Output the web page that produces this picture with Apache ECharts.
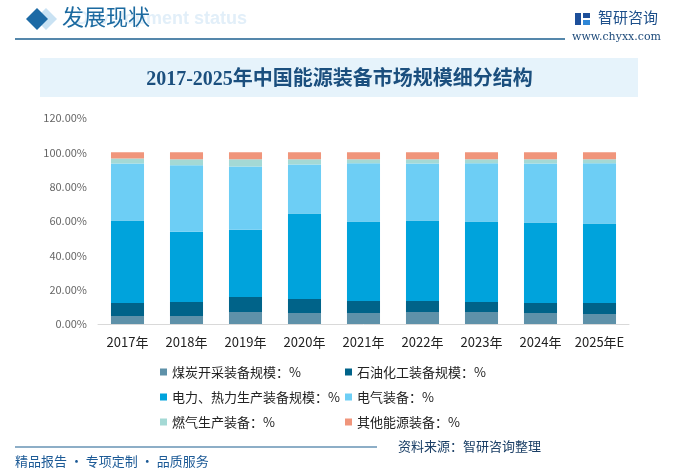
<!DOCTYPE html>
<html><head><meta charset="utf-8">
<script src="https://cdn.jsdelivr.net/npm/echarts@6/dist/echarts.min.js"></script>
<style>html,body{margin:0;padding:0;background:#fff}#c{width:679px;height:472px}</style>
</head><body><div id="c"></div>
<script>
const categories = ['2017年','2018年','2019年','2020年','2021年','2022年','2023年','2024年','2025年E'];
const coal  = [4.68, 4.68, 7.02, 6.43, 6.43, 7.02, 7.02, 6.43, 5.85];
const petro = [7.60, 8.19, 8.77, 8.19, 7.02, 6.43, 5.85, 5.85, 6.43];
const power = [47.95, 40.94, 39.18, 49.71, 46.20, 46.78, 46.78, 46.78, 46.20];
const elec  = [33.33, 38.60, 36.84, 28.65, 33.92, 33.33, 33.92, 34.50, 35.09];
const gas   = [2.92, 3.51, 4.09, 2.92, 2.34, 2.34, 2.34, 2.34, 2.34];
const other = [3.51, 4.09, 4.09, 4.09, 4.09, 4.09, 4.09, 4.09, 4.09];
const seriesNames = ['煤炭开采装备规模：%','石油化工装备规模：%','电力、热力生产装备规模：%','电气装备：%','燃气生产装备：%','其他能源装备：%'];
const legendLeftCol = [seriesNames[0], seriesNames[2], seriesNames[4]];
const legendRightCol = [seriesNames[1], seriesNames[3], seriesNames[5]];
const colors = ['#5e91a9','#006389','#00a3dc','#6dcef5','#a4d9d5','#f0957b'];
const dataSets = [coal, petro, power, elec, gas, other];

const FONT = '"Noto Sans CJK SC","Noto Sans",sans-serif';
const chart = echarts.init(document.getElementById('c'), null, {renderer:'canvas'});
const legendText = {fontSize:13, color:'#222', fontFamily:FONT, lineHeight:14};
chart.setOption({
  backgroundColor:'#fff',
  animation:false,
  color: colors,
  title: {
    text:'2017-2025年中国能源装备市场规模细分结构',
    left:'center', top:65,
    textStyle:{fontSize:20, fontWeight:'bold', color:'#1b4f7e', fontFamily:'"Liberation Serif","Noto Sans CJK SC",serif'}
  },
  grid:{left:98, right:50, top:118, bottom:148, containLabel:false},
  xAxis:{
    type:'category', data:categories,
    axisLine:{lineStyle:{color:'#d9d9d9'}},
    axisTick:{show:false},
    axisLabel:{color:'#222', fontSize:13, margin:12, fontFamily:FONT, interval:0}
  },
  yAxis:{
    type:'value', min:0, max:120, interval:20,
    axisLine:{show:false}, axisTick:{show:false}, splitLine:{show:false},
    axisLabel:{color:'#666', fontSize:11, margin:11, fontFamily:FONT,
      formatter:v=>v.toFixed(2)+'%'}
  },
  legend:[
    {orient:'vertical', left:155, top:360, itemWidth:7, itemHeight:7, icon:'rect', itemGap:11,
     data:legendLeftCol, textStyle:legendText, selectedMode:false},
    {orient:'vertical', left:340, top:360, itemWidth:7, itemHeight:7, icon:'rect', itemGap:11,
     data:legendRightCol, textStyle:legendText, selectedMode:false}
  ],
  series: dataSets.map((d,i)=>({
    name:seriesNames[i], type:'bar', stack:'total', barWidth:'56%',
    data:d, itemStyle:{color:colors[i]}
  })),
  graphic:[
    {type:'rect', shape:{x:40, y:58, width:598, height:39}, style:{fill:'#e6f3fb'}, z:-10},
    {type:'text', left:76, top:10, style:{text:'Development status', font:'bold 18px "Liberation Sans",Arial,sans-serif', fill:'#e2eff9'}, z:-5},
    {type:'polygon', shape:{points:[[46,8],[57,19],[46,30],[35,19]]}, style:{fill:'#c9e2f3'}, z:-4},
    {type:'polygon', shape:{points:[[37,8],[48,19],[37,30],[26,19]]}, style:{fill:'#1c6aa5'}},
    {type:'text', left:62, top:6, style:{text:'发展现状', font:'22px "Noto Sans CJK SC",sans-serif', fill:'#1c6aa0'}},
    {type:'line', shape:{x1:15, y1:39, x2:565, y2:39}, style:{stroke:'#1c5f8f', lineWidth:1.5}},
    {type:'rect', shape:{x:575, y:13, width:6, height:12}, style:{fill:'#1d4f9a'}},
    {type:'rect', shape:{x:583, y:13, width:7, height:5}, style:{fill:'#1d4f9a'}},
    {type:'rect', shape:{x:583, y:20, width:7, height:5}, style:{fill:'#2f86d6'}},
    {type:'text', left:598, top:10, style:{text:'智研咨询', font:'15px "Noto Sans CJK SC",sans-serif', fill:'#1d4f8a'}},
    {type:'text', left:572, top:32, style:{text:'www.chyxx.com', font:'11px "DejaVu Serif","Liberation Serif",serif', fill:'#1d4a7a'}},
    {type:'line', shape:{x1:15, y1:447, x2:377, y2:447}, style:{stroke:'#1c5f8f', lineWidth:1.2}},
    {type:'text', left:398, top:440, style:{text:'资料来源：智研咨询整理', font:'13px "Noto Sans CJK SC",sans-serif', fill:'#1b3f66'}},
    {type:'text', left:15, top:455, style:{text:'精品报告 · 专项定制 · 品质服务', font:'13px "Noto Sans CJK SC",sans-serif', fill:'#1c5a96'}}
  ]
});
</script></body></html>
